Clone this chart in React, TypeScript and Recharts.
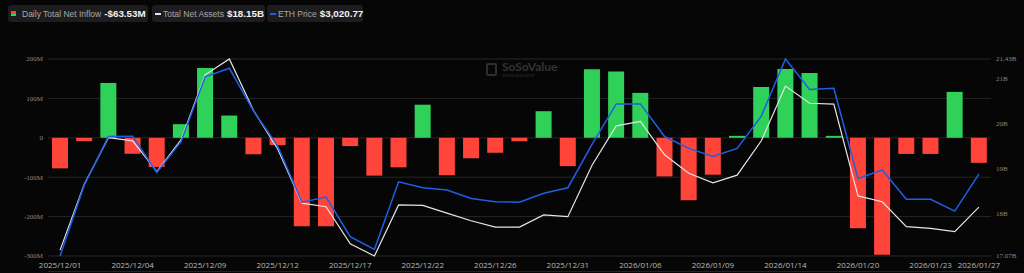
import React from "react";
import { ComposedChart, Bar, Line, XAxis, YAxis, CartesianGrid, Cell } from "recharts";

const dates = [
  "2025/12/01", "2025/12/02", "2025/12/03", "2025/12/04", "2025/12/05",
  "2025/12/08", "2025/12/09", "2025/12/10", "2025/12/11", "2025/12/12",
  "2025/12/15", "2025/12/16", "2025/12/17", "2025/12/18", "2025/12/19",
  "2025/12/22", "2025/12/23", "2025/12/24", "2025/12/26",
  "2025/12/29", "2025/12/30", "2025/12/31",
  "2026/01/02", "2026/01/05", "2026/01/06", "2026/01/07", "2026/01/08", "2026/01/09",
  "2026/01/12", "2026/01/13", "2026/01/14", "2026/01/15", "2026/01/16",
  "2026/01/20", "2026/01/21", "2026/01/22", "2026/01/23",
  "2026/01/26", "2026/01/27",
];

// Daily total net inflow, $M
const netInflow = [
  -77.6, -8.4, 139, -40.5, -74,
  34.6, 177, 56.5, -42, -18.6,
  -224.5, -224.5, -21, -96, -75,
  84, -95, -52, -38,
  -9, 67.5, -72,
  174, 168, 114, -98, -158.6, -93.7,
  5, 129, 174.7, 164.6, 5,
  -229.5, -297, -41, -41,
  116.5, -63.53,
];

// Total net assets, $B
const netAssets = [
  17.2, 18.66, 19.69, 19.62, 18.94,
  19.64, 21.08, 21.43, 20.29, 19.44,
  18.24, 18.16, 17.34, 17.07, 18.2,
  18.19, 18.02, 17.85, 17.71,
  17.71, 17.98, 17.94,
  19.08, 19.95, 20.05, 19.31, 18.9, 18.69,
  18.86, 19.62, 20.83, 20.45, 20.43,
  18.4, 18.27, 17.72, 17.68,
  17.61, 18.15,
];

// ETH price, $
const ethPrice = [
  2800, 2991, 3122, 3123, 3025,
  3108, 3283, 3306, 3191, 3096,
  2945, 2959, 2852, 2818, 3000,
  2984, 2978, 2955, 2946,
  2945, 2969, 2984,
  3101, 3210, 3210, 3122, 3090, 3068,
  3090, 3177, 3331, 3249, 3252,
  3009, 3032, 2953, 2953,
  2921, 3020.77,
];

const xTicks = [
  "2025/12/01", "2025/12/04", "2025/12/09", "2025/12/12", "2025/12/17",
  "2025/12/22", "2025/12/26", "2025/12/31", "2026/01/06", "2026/01/09",
  "2026/01/14", "2026/01/20", "2026/01/23", "2026/01/27",
];
const leftTicks = [-300, -200, -100, 0, 100, 200];
const rightTicks = [17.07, 18, 19, 20, 21, 21.43];

const data = dates.map((d, i) => ({
  date: d,
  inflow: netInflow[i],
  assets: netAssets[i],
  eth: ethPrice[i],
}));

const GREEN = "#30d158";
const RED = "#ff453a";
const BLUE = "#1f5fe6";
const WHITE = "#e6e6e6";

const legendBox: React.CSSProperties = {
  position: "absolute",
  top: 5,
  height: 17,
  background: "#1d1d1f",
  borderRadius: 3,
  display: "flex",
  alignItems: "center",
  fontFamily: "'Liberation Sans', Arial, sans-serif",
  whiteSpace: "nowrap",
  overflow: "visible",
};
const labelStyle: React.CSSProperties = { color: "#a8a8a8", fontSize: 8.5 };
const valueStyle: React.CSSProperties = { color: "#f2f2f2", fontSize: 9.8, fontWeight: 700, marginLeft: 3 };

const LeftTick = (props: any) => {
  const { y, payload } = props;
  const v = payload.value as number;
  return (
    <text x={43} y={y} dy="0.355em" textAnchor="end" fill="#888" fontSize={7} fontFamily="'Liberation Serif', serif">
      {v === 0 ? "0" : `${v}M`}
    </text>
  );
};

const RightTick = (props: any) => {
  const { y, payload } = props;
  return (
    <text x={996} y={y} dy="0.355em" textAnchor="start" fill="#888" fontSize={7} fontFamily="'Liberation Serif', serif">
      {`${payload.value}B`}
    </text>
  );
};

export default function App() {
  return (
    <div style={{ position: "absolute", left: 0, top: 0, width: 1024, height: 273, background: "#060606", overflow: "hidden" }}>
      <div style={{ ...legendBox, left: 8, width: 140 }}>
        <div style={{ marginLeft: 3, width: 5, height: 5, flexShrink: 0, display: "flex", flexDirection: "column", marginRight: 6 }}>
          <div style={{ flex: 1, background: RED }} />
          <div style={{ flex: 1, background: GREEN }} />
        </div>
        <span style={labelStyle}>Daily Total Net Inflow</span>
        <span style={valueStyle}>-$63.53M</span>
      </div>
      <div style={{ ...legendBox, left: 152, width: 113 }}>
        <div style={{ marginLeft: 3, width: 6, height: 2, flexShrink: 0, background: WHITE, marginRight: 2 }} />
        <span style={labelStyle}>Total Net Assets</span>
        <span style={valueStyle}>$18.15B</span>
      </div>
      <div style={{ ...legendBox, left: 267, width: 96 }}>
        <div style={{ marginLeft: 3, width: 6, height: 2, flexShrink: 0, background: BLUE, marginRight: 2 }} />
        <span style={labelStyle}>ETH Price</span>
        <span style={valueStyle}>$3,020.77</span>
      </div>

      <div style={{ position: "absolute", left: 486, top: 61, display: "flex", alignItems: "center", fontFamily: "Lato, sans-serif" }}>
        <div style={{ width: 11, height: 13, border: "2px solid #2e2e2e", borderRadius: 2, marginRight: 5, boxSizing: "border-box" }} />
        <div style={{ display: "flex", flexDirection: "column", lineHeight: 1 }}>
          <span style={{ color: "#333", fontSize: 12, fontWeight: 700 }}>SoSoValue</span>
          <span style={{ color: "#2c2c2c", fontSize: 5 }}>sosovalue.com</span>
        </div>
      </div>

      <div style={{ position: "absolute", left: 0, top: 0 }}>
        <ComposedChart width={1024} height={273} data={data} margin={{ top: 59, right: 0, bottom: 0, left: 0 }} barSize={16}>
          <CartesianGrid yAxisId="left" vertical={false} stroke="#262626" strokeWidth={1} />
          <XAxis
            dataKey="date"
            ticks={xTicks}
            interval={0}
            height={17}
            tickSize={0}
            tickMargin={6}
            axisLine={false}
            tickLine={false}
            tick={{ fill: "#b8b8b8", fontSize: 8, fontFamily: "'Open Sans', sans-serif" }}
          />
          <YAxis
            yAxisId="left"
            orientation="left"
            width={48}
            domain={[-300, 200]}
            ticks={leftTicks}
            interval={0}
            tickSize={0}
            axisLine={false}
            tickLine={false}
            tick={<LeftTick />}
          />
          <YAxis
            yAxisId="right"
            orientation="right"
            width={33}
            domain={[17.07, 21.43]}
            ticks={rightTicks}
            interval={0}
            tickSize={0}
            axisLine={false}
            tickLine={false}
            tick={<RightTick />}
          />
          <YAxis yAxisId="eth" hide domain={[2800, 3331]} />
          <Bar yAxisId="left" dataKey="inflow" isAnimationActive={false}>
            {data.map((d, i) => (
              <Cell key={i} fill={d.inflow >= 0 ? GREEN : RED} />
            ))}
          </Bar>
          <Line yAxisId="right" type="linear" dataKey="assets" stroke={WHITE} strokeWidth={1.2} dot={false} isAnimationActive={false} />
          <Line yAxisId="eth" type="linear" dataKey="eth" stroke={BLUE} strokeWidth={1.5} dot={false} isAnimationActive={false} />
        </ComposedChart>
      </div>
      <div style={{ position: "absolute", left: 48, top: 271, width: 943, height: 1, background: "#14263a" }} />
    </div>
  );
}
